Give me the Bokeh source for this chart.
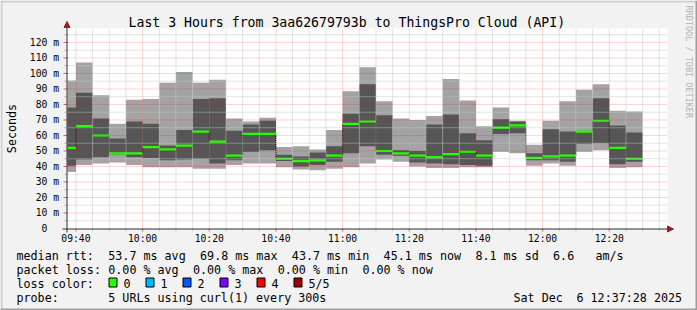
import math
from bokeh.plotting import figure
from bokeh.models import (Label, BoxAnnotation, Arrow, NormalHead, Range1d, ColumnDataSource)
from bokeh.core.properties import value
from bokeh.embed import file_html
from bokeh.resources import INLINE

# ---------------- data ----------------
title_text = "Last 3 Hours from 3aa62679793b to ThingsPro Cloud (API)"
window_start = "09:37:28"
window_end = "12:37:28"

bar_times = ["09:35", "09:40", "09:45", "09:50", "09:55", "10:00", "10:05", "10:10",
             "10:15", "10:20", "10:25", "10:30", "10:35", "10:40", "10:45", "10:50",
             "10:55", "11:00", "11:05", "11:10", "11:15", "11:20", "11:25", "11:30",
             "11:35", "11:40", "11:45", "11:50", "11:55", "12:00", "12:05", "12:10",
             "12:15", "12:20", "12:25"]
# smoke: sorted pings (ms)
rtt_min = [36.5, 41, 42, 42.5, 41, 39.5, 39.5, 39.5, 38.5, 38.5, 41, 42, 42, 39.5, 38,
           37.5, 38.5, 39.5, 42, 44.5, 43, 40, 39, 39, 39.5, 39.5, 49.5, 48.5, 40.5, 42,
           40.5, 49.5, 50.5, 39, 39.5]
rtt_p2 = [40.5, 44.5, 46, 47.5, 46, 45.5, 44, 44.5, 45, 42, 44, 49.5, 50.5, 43.5, 40,
          41, 43, 48.5, 53, 47.5, 47, 42.5, 42, 41.5, 41, 40.5, 61, 61.5, 44, 44,
          43, 54.5, 55, 41.5, 43]
rtt_median = [52, 66, 60, 48.5, 48.5, 52.5, 51, 53.5, 62.5, 56, 47, 61, 61, 45, 43.5,
              44, 47, 67.5, 69, 50, 48.5, 47, 46, 48, 49.5, 47, 65, 66.5, 45.5, 46.5,
              47, 62.5, 69.5, 52, 45]
rtt_p4 = [78, 87.5, 71, 58, 69, 67.5, 53.5, 63.5, 83.5, 84, 63, 67, 69.5, 47.5, 46.5,
          49, 53, 74, 93, 73, 50.5, 50, 67, 73.5, 61.5, 57, 70.5, 69, 48.5, 64,
          62.5, 63, 84, 66.5, 62]
rtt_max = [95.5, 107, 86, 67.5, 83, 83.5, 94, 101, 94, 96, 71, 69, 71.5, 52.5, 53,
           51, 63.5, 88.5, 104, 82, 71, 70, 72.5, 96.5, 82.5, 66, 78, 69.5, 54, 69.5,
           82, 89.5, 93, 76, 75.5]
step_minutes = 5

x_tick_labels = ["09:40", "10:00", "10:20", "10:40", "11:00", "11:20", "11:40", "12:00", "12:20"]
y_tick_values = [0, 10, 20, 30, 40, 50, 60, 70, 80, 90, 100, 110, 120]
y_tick_labels = ["0\u00a0\u00a0", "10 m", "20 m", "30 m", "40 m", "50 m", "60 m", "70 m",
                 "80 m", "90 m", "100 m", "110 m", "120 m"]
y_axis_title = "Seconds"

median_row = ["median rtt:", "53.7 ms avg", "69.8 ms max", "43.7 ms min", "45.1 ms now",
              "8.1 ms sd", "6.6", "am/s"]
median_cols = [0, 13, 26, 39, 52, 65, 76, 82]
loss_row = ["packet loss:", "0.00 % avg", "0.00 % max", "0.00 % min", "0.00 % now"]
loss_cols = [0, 13, 25, 37, 49]
loss_color_title = "loss color:"
loss_labels = ["0", "1", "2", "3", "4", "5/5"]
loss_colors = ["#26FF00", "#00B8FF", "#0059FF", "#7E00FF", "#FF0000", "#A10000"]
probe_row = ["probe:", "5 URLs using curl(1) every 300s"]
probe_cols = [0, 13]
stamp_parts = ["Sat Dec", "6 12:37:28 2025"]
watermark = "RRDTOOL / TOBI OETIKER"

# ---------------- helpers ----------------
def hm(s):
    parts = [int(v) for v in s.split(":")]
    m = parts[0] * 60 + parts[1]
    if len(parts) > 2:
        m += parts[2] / 60.0
    return m

FONT = "DejaVu Sans Mono"
W, H = 697, 310
FL, FR, FT, FB = 67, 667, 28, 228      # graph area in canvas pixels
Y_TOP = 129.0
X0, X1 = hm(window_start), hm(window_end)
TS = 3.5                                # baseline correction (px)

def px_x(px):
    return X0 + (px - FL) * (X1 - X0) / (FR - FL)

def px_y(py):
    return (FB - py) * Y_TOP / (FB - FT)

p = figure(width=W, height=H, output_backend="svg", toolbar_location=None, title=None,
           x_axis_location=None, y_axis_location=None,
           x_range=Range1d(px_x(0), px_x(W)), y_range=Range1d(px_y(H), px_y(0)),
           min_border=0)
p.background_fill_color = "#F2F2F2"
p.border_fill_color = "#F2F2F2"
p.outline_line_color = None
p.grid.visible = False

# graph canvas
p.quad(left=[X0], right=[X1], bottom=[0], top=[Y_TOP], fill_color="#FFFFFF", line_color=None)

# ---------------- smoke ----------------
left = [max(hm(t), X0) for t in bar_times]
right = [hm(t) + step_minutes for t in bar_times]
src = ColumnDataSource(dict(left=left, right=right, mn=rtt_min, p2=rtt_p2,
                            med=rtt_median, p4=rtt_p4, mx=rtt_max))
p.quad(left="left", right="right", bottom="mn", top="mx", source=src,
       fill_color="#A3A3A3", line_color=None)
p.quad(left="left", right="right", bottom="p2", top="p4", source=src,
       fill_color="#565656", line_color=None)

conn = ColumnDataSource(dict(x=right[:-1], y0=rtt_median[:-1], y1=rtt_median[1:]))
p.segment(x0="x", y0="y0", x1="x", y1="y1", source=conn,
          line_color="#000000", line_width=1, line_dash="1 1")
p.segment(x0="left", y0="med", x1="right", y1="med", source=src,
          line_color=loss_colors[0], line_width=2.2)

# ---------------- grid (drawn over the smoke, like rrdtool) ----------------
x_major = [hm(t) for t in x_tick_labels]
x_minor = [m for m in range(int(X0) - int(X0) % 5, int(X1) + 5, 5)
           if X0 < m < X1 and m not in x_major]
y_major = [v for v in y_tick_values if v > 0]
y_minor = [v + 5 for v in y_tick_values if v + 5 < Y_TOP]

GRID_MINOR = "#C4C4C4"
GRID_MAJOR = "#FF0000"
p.segment(x0=x_minor, y0=[0] * len(x_minor), x1=x_minor, y1=[Y_TOP] * len(x_minor),
          line_color=GRID_MINOR, line_alpha=0.9, line_width=1, line_dash="1 1")
p.segment(x0=[X0] * len(y_minor), y0=y_minor, x1=[X1] * len(y_minor), y1=y_minor,
          line_color=GRID_MINOR, line_alpha=0.9, line_width=1, line_dash="1 1")
p.segment(x0=x_major, y0=[0] * len(x_major), x1=x_major, y1=[Y_TOP] * len(x_major),
          line_color=GRID_MAJOR, line_alpha=0.33, line_width=1, line_dash="1 1")
p.segment(x0=[X0] * len(y_major), y0=y_major, x1=[X1] * len(y_major), y1=y_major,
          line_color=GRID_MAJOR, line_alpha=0.33, line_width=1, line_dash="1 1")

# ticks
p.segment(x0=x_minor, y0=[0] * len(x_minor), x1=x_minor, y1=[px_y(FB + 2)] * len(x_minor),
          line_color="#B0B0B0", line_width=1)
p.segment(x0=x_major, y0=[0] * len(x_major), x1=x_major, y1=[px_y(FB + 3)] * len(x_major),
          line_color="#E06060", line_width=1)
p.segment(x0=[px_x(FL - 3)] * len(y_minor), y0=y_minor, x1=[X0] * len(y_minor), y1=y_minor,
          line_color="#B0B0B0", line_width=1)
p.segment(x0=[px_x(FL - 4)] * len(y_major), y0=y_major, x1=[X0] * len(y_major), y1=y_major,
          line_color="#E06060", line_width=1)

# tick labels
p.text(x=x_major, y=[px_y(241.5 - TS)] * len(x_major), text=x_tick_labels,
       text_font=value(FONT), text_font_size="9.7px", text_color="#000000",
       text_align="center", text_baseline="alphabetic")
p.text(x=[px_x(58.5)] * len(y_tick_values), y=y_tick_values, text=y_tick_labels,
       text_font=value(FONT), text_font_size="9.7px", text_color="#000000",
       text_align="right", text_baseline="alphabetic", y_offset=0)

# axes with arrows
AXC = "#303030"
ARC = "#9E1B1B"
p.add_layout(Arrow(end=NormalHead(size=6, fill_color=ARC, line_color=ARC),
                   x_start=px_x(62), y_start=px_y(FB + 0.5), x_end=px_x(673), y_end=px_y(FB + 0.5),
                   line_color=AXC, line_width=1))
p.add_layout(Arrow(end=NormalHead(size=6, fill_color=ARC, line_color=ARC),
                   x_start=px_x(FL - 0.5), y_start=px_y(232), x_end=px_x(FL - 0.5), y_end=px_y(21),
                   line_color=AXC, line_width=1))

# ---------------- texts ----------------
CW = 7.06
TX = 16

def txt(px, py, text, size="11.7px", color="#000000", align="left", angle=0.0):
    p.add_layout(Label(x=px_x(px), y=px_y(py), text=text, text_font=FONT,
                       text_font_size=size, text_color=color, text_align=align,
                       text_baseline="alphabetic", angle=angle))

txt(128, 22, title_text, size="13.2px")
txt(15 - TS, 128, y_axis_title, align="center", angle=math.pi / 2)

for s, c in zip(median_row, median_cols):
    txt(TX + c * CW, 258.5 - TS, s)
for s, c in zip(loss_row, loss_cols):
    txt(TX + c * CW, 272.5 - TS, s)
txt(TX, 286.5 - TS, loss_color_title)
for i, (s, c) in enumerate(zip(loss_labels, loss_colors)):
    bx = 108.5 + 37 * i
    p.add_layout(BoxAnnotation(left=px_x(bx), right=px_x(bx + 8), top=px_y(277.5),
                               bottom=px_y(286.5), fill_color=c, fill_alpha=1.0,
                               line_color="#000000", line_alpha=1.0, line_width=1))
    txt(bx + 14.5, 286.5 - TS, s)
for s, c in zip(probe_row, probe_cols):
    txt(TX + c * CW, 300.5 - TS, s)
txt(513, 300.5 - TS, stamp_parts[0])
txt(513 + 9 * 7.0, 300.5 - TS, stamp_parts[1])
txt(684.5 + TS, 5, watermark, size="8.5px", color="#B4B4B4", angle=-math.pi / 2)

# ---------------- 3D frame ----------------
SHA, SHB = "#CFCFCF", "#9E9E9E"
for (l, r, t, b, c) in [(0, 697, 0, 2, SHA), (0, 2, 0, 310, SHA),
                        (0, 697, 308, 310, SHB), (695, 697, 0, 310, SHB)]:
    p.add_layout(BoxAnnotation(left=px_x(l), right=px_x(r), top=px_y(t), bottom=px_y(b),
                               fill_color=c, fill_alpha=1.0, line_color=None))

open("out.html", "w").write(file_html(p, INLINE))
